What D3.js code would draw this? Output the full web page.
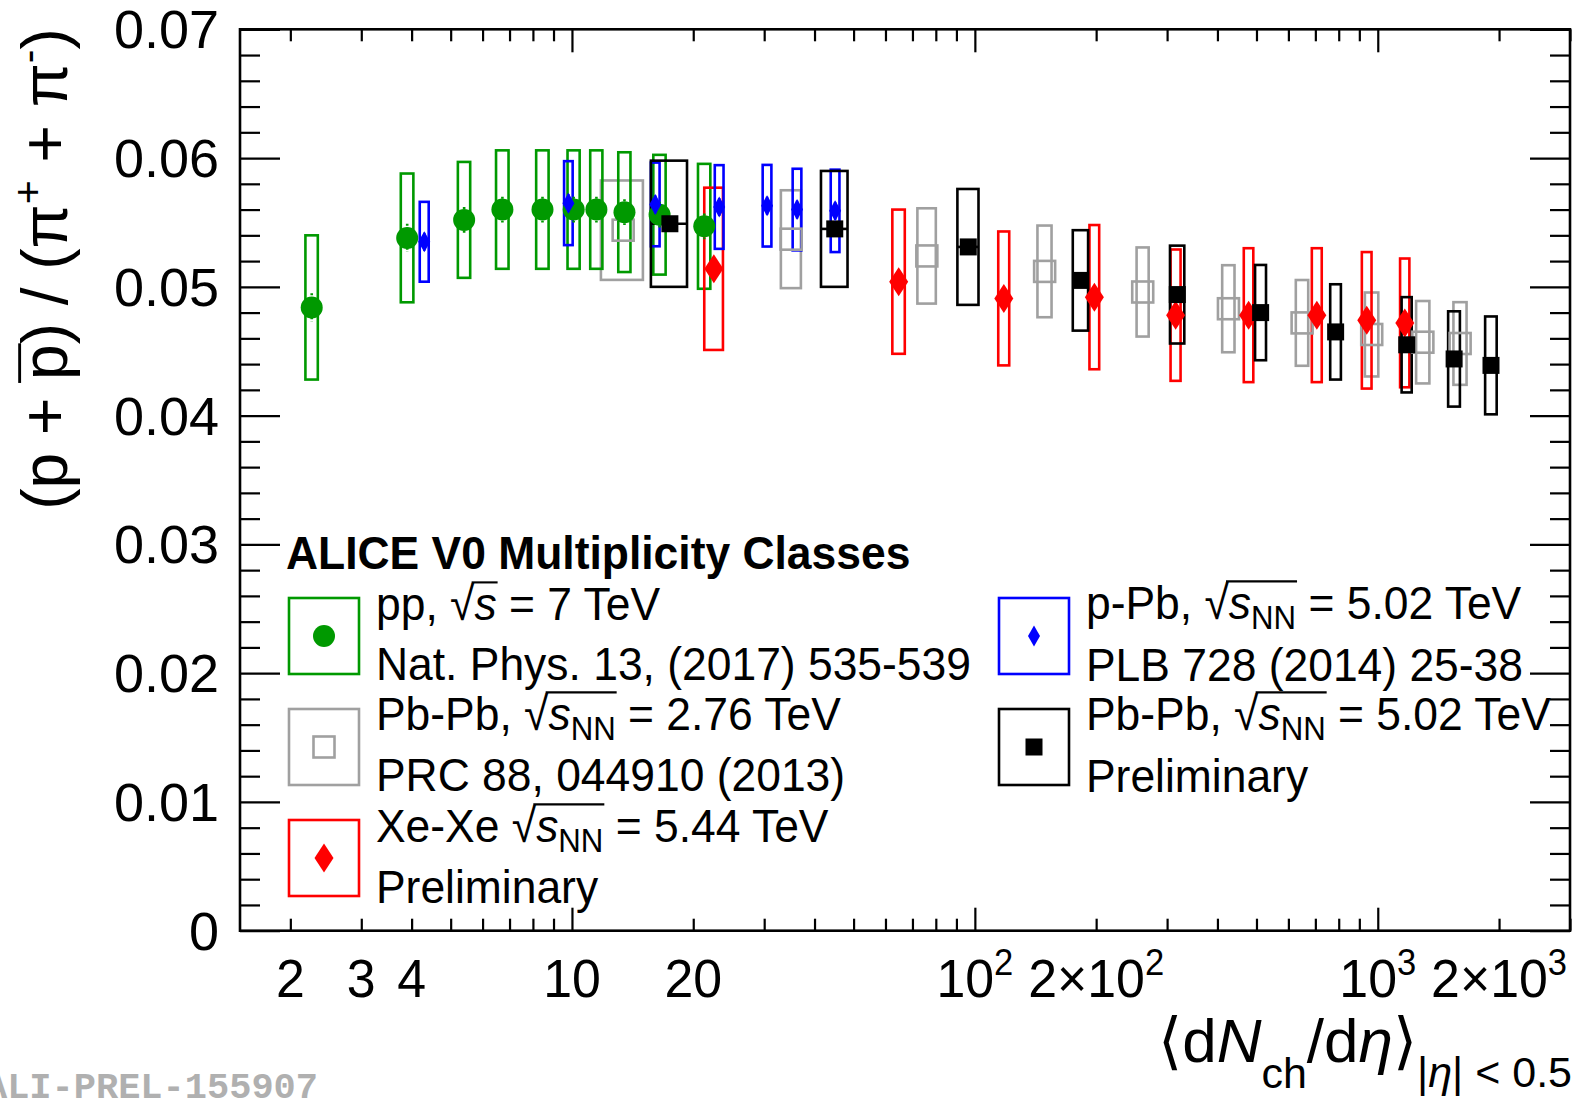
<!DOCTYPE html>
<html><head><meta charset="utf-8">
<script src="https://cdn.jsdelivr.net/npm/d3@7"></script>
<style>
body{margin:0;background:#fff}
svg{display:block}
text{font-family:"Liberation Sans",Arial,Helvetica,sans-serif}
</style>
</head><body>
<svg id="c" width="1577" height="1100"></svg>
<script>
// ---------------- data ----------------
// pp, sqrt(s) = 7 TeV
const ppX     = [2.26, 3.90, 5.40, 6.72, 8.45, 10.1, 11.5, 13.5, 16.5, 21.3];
const ppXErr  = [0.08, 0.14, 0.19, 0.24, 0.30, 0.35, 0.40, 0.47, 0.58, 0.75];
const ppY     = [0.0484, 0.0538, 0.0552, 0.0560, 0.0560, 0.0560, 0.0560, 0.0558, 0.0556, 0.0547];
const ppSys   = [0.0056, 0.0050, 0.0045, 0.0046, 0.0046, 0.0046, 0.0046, 0.00465, 0.00465, 0.00485];
const ppStat  = [0.0011, 0.0011, 0.0010, 0.0010, 0.0010, 0.0010, 0.0010, 0.0010, 0.0010, 0.0010];
// p-Pb, 5.02 TeV
const pPbX    = [4.3, 9.8, 16.1, 23.2, 30.5, 36.2, 45.0];
const pPbXErr = [0.11, 0.24, 0.40, 0.58, 0.76, 0.90, 1.12];
const pPbY    = [0.0535, 0.0565, 0.0564, 0.0562, 0.0563, 0.0560, 0.0559];
const pPbSys  = [0.0031, 0.00326, 0.00325, 0.00325, 0.00317, 0.00317, 0.0032];
const pPbStat = [0.0007, 0.0007, 0.0007, 0.0007, 0.0007, 0.0007, 0.0007];
// Pb-Pb, 2.76 TeV
const pb276X    = [13.4, 35, 76, 149, 261, 426, 649, 966, 1294, 1601];
const pb276XErr = [1.6, 2, 4, 6, 9, 15, 23, 37, 49, 60];
const pb276Y    = [0.0544, 0.0537, 0.0524, 0.0512, 0.0496, 0.0483, 0.0472, 0.0463, 0.0457, 0.0456];
const pb276Sys  = [0.00386, 0.0038, 0.0037, 0.00356, 0.00346, 0.00338, 0.00333, 0.00326, 0.0032, 0.00321];
// Pb-Pb, 5.02 TeV (preliminary)
const pb502X    = [17.5, 44.9, 96.3, 183, 318, 512, 786, 1180, 1547, 1910];
const pb502XErr = [1.8, 3.4, 5.8, 8, 13, 16, 24, 34, 52, 63];
const pb502Y    = [0.0549, 0.0545, 0.0531, 0.0505, 0.0494, 0.0480, 0.0465, 0.0455, 0.0444, 0.0439];
const pb502Sys  = [0.0049, 0.0045, 0.0045, 0.0039, 0.0038, 0.0037, 0.0037, 0.0037, 0.0037, 0.0038];
// Xe-Xe, 5.44 TeV (preliminary)
const xeX    = [22.5, 64.7, 118, 198, 315, 478, 706, 939, 1167];
const xeXErr = [1.2, 2.3, 3.7, 5.5, 9, 13, 20, 26, 31];
const xeY    = [0.0514, 0.0504, 0.0491, 0.0492, 0.0478, 0.0478, 0.0478, 0.0474, 0.0472];
const xeSys  = [0.0063, 0.0056, 0.0052, 0.0056, 0.0051, 0.0052, 0.0052, 0.0053, 0.0050];

// ticks
const yTickValues = [0, 0.01, 0.02, 0.03, 0.04, 0.05, 0.06, 0.07];
const yTickLabels = ["0", "0.01", "0.02", "0.03", "0.04", "0.05", "0.06", "0.07"];
const xTickValues = [2, 3, 4, 10, 20, 100, 200, 1000, 2000];
const xTickLabels = ["2", "3", "4", "10", "20", "10^2", "2×10^2", "10^3", "2×10^3"];

// ---------------- layout ----------------
const svg = d3.select("#c");
const L = 240, R = 1570, T = 29.3, B = 930.7;
const x = d3.scaleLog().domain([1.5, 3000]).range([L, R]);
const y = d3.scaleLinear().domain([0, 0.07]).range([B, T]);

const GREEN = "#009900", GRAY = "#a0a0a0", BLUE = "#0000ff", RED = "#ff0000", BLACK = "#000000";

// ---------------- axes ticks ----------------
function tickGroup(axisFn, scale, vals, size, transform) {
  const g = svg.append("g").attr("transform", transform)
    .call(axisFn(scale).tickValues(vals).tickSize(size).tickFormat(""));
  g.select(".domain").remove();
  g.selectAll("line").attr("stroke", "#000").attr("stroke-width", 2.2);
  g.selectAll("text").remove();
}
const yMinor = d3.range(0, 71, 2).filter(v => v % 10 !== 0).map(v => v / 1000);
const xMajor = [10, 100, 1000];
const xMinor = [];
[1, 10, 100, 1000].forEach(d => { for (let k = 2; k <= 9; k++) { const v = k * d; if (v >= 1.5 && v <= 3000) xMinor.push(v); } });

tickGroup(d3.axisLeft, y, yTickValues, -40, `translate(${L},0)`);
tickGroup(d3.axisLeft, y, yMinor, -20, `translate(${L},0)`);
tickGroup(d3.axisRight, y, yTickValues, -40, `translate(${R},0)`);
tickGroup(d3.axisRight, y, yMinor, -20, `translate(${R},0)`);
tickGroup(d3.axisBottom, x, xMajor, -23, `translate(0,${B})`);
tickGroup(d3.axisBottom, x, xMinor, -12, `translate(0,${B})`);
tickGroup(d3.axisTop, x, xMajor, -23, `translate(0,${T})`);
tickGroup(d3.axisTop, x, xMinor, -12, `translate(0,${T})`);

svg.append("rect").attr("x", L).attr("y", T).attr("width", R - L).attr("height", B - T)
  .attr("fill", "none").attr("stroke", "#000").attr("stroke-width", 2.6);

// ---------------- rich text helper ----------------
function rich(parent, px, py, parts, o) {
  const g = parent.append("g").attr("transform", `translate(${px},${py}) ${o.rot ? "rotate(" + o.rot + ")" : ""} scale(${o.sx || 1},1)`);
  const t = g.append("text").attr("font-size", o.size).attr("text-anchor", o.anchor || "start")
    .attr("fill", o.fill || "#000");
  if (o.weight) t.attr("font-weight", o.weight);
  if (o.family) t.style("font-family", o.family);
  let cur = 0, idx = 0;
  const ol = {};
  parts.forEach(p => {
    const s = typeof p === "string" ? { t: p } : p;
    const ts = t.append("tspan").text(s.t);
    const shift = s.dy || 0;
    if (shift !== cur) { ts.attr("dy", shift - cur); cur = shift; }
    if (s.size) ts.attr("font-size", s.size);
    if (s.it) ts.attr("font-style", "italic");
    if (s.ol) {
      if (!ol[s.ol]) ol[s.ol] = [idx, idx + s.t.length - 1, s.olY || -0.8 * o.size];
      else ol[s.ol][1] = idx + s.t.length - 1;
    }
    idx += s.t.length;
  });
  const n = t.node();
  Object.values(ol).forEach(([a, b, oy]) => {
    const sx = n.getStartPositionOfChar(a).x, ex = n.getEndPositionOfChar(b).x;
    g.append("line").attr("x1", sx - 3).attr("x2", ex + 1).attr("y1", oy).attr("y2", oy)
      .attr("stroke", o.fill || "#000").attr("stroke-width", o.size * 0.045);
  });
  return g;
}

// ---------------- tick labels ----------------
yTickValues.forEach((v, i) => {
  svg.append("text").attr("x", 219).attr("y", y(v) + 19).attr("text-anchor", "end")
    .attr("font-size", 54).text(yTickLabels[i]);
});
xTickValues.forEach((v, i) => {
  const lab = xTickLabels[i];
  const parts = lab.includes("^") ? [lab.split("^")[0], { t: lab.split("^")[1], dy: -22, size: 36 }] : [lab];
  rich(svg, x(v), 997, parts, { size: 54, anchor: "middle", sx: 0.96 });
});

// ---------------- axis titles ----------------
rich(svg, 67, 269, ["(p + ", { t: "p", ol: 1, olY: -0.74 * 64 }, ") / (π", { t: "+", dy: -25, size: 41 },
  { t: " + π" }, { t: "-", dy: -25, size: 41 }, { t: ")" }], { size: 64, anchor: "middle", rot: -90 });

rich(svg, 1572, 1062, ["⟨d", { t: "N", it: true }, { t: "ch", dy: 26, size: 43 }, { t: "/d" },
  { t: "η", it: true }, "⟩", { t: "|", dy: 25, size: 43 }, { t: "η", it: true, dy: 25, size: 43 },
  { t: "| < 0.5", dy: 25, size: 43 }], { size: 62, anchor: "end" });

// watermark
svg.append("text").attr("x", 318).attr("y", 1098).attr("text-anchor", "end")
  .attr("font-size", 37).attr("font-weight", "bold").attr("fill", "#b0b0b0")
  .style("font-family", "'Liberation Mono','DejaVu Sans Mono',monospace").text("ALI-PREL-155907");

// ---------------- data marks ----------------
function boxes(X, XE, Y, S, color) {
  svg.append("g").selectAll("rect").data(X).join("rect")
    .attr("x", (d, i) => x(d - XE[i]))
    .attr("width", (d, i) => x(d + XE[i]) - x(d - XE[i]))
    .attr("y", (d, i) => y(Y[i] + S[i]))
    .attr("height", (d, i) => y(Y[i] - S[i]) - y(Y[i] + S[i]))
    .attr("fill", "none").attr("stroke", color).attr("stroke-width", 2.6);
}
function statBars(X, Y, E, color, dash) {
  svg.append("g").selectAll("line").data(X).join("line")
    .attr("x1", d => x(d)).attr("x2", d => x(d))
    .attr("y1", (d, i) => y(Y[i] + E[i])).attr("y2", (d, i) => y(Y[i] - E[i]))
    .attr("stroke", color).attr("stroke-width", 2.6).attr("stroke-dasharray", dash || null);
}
const diamond = (w, h) => `M0,${-h}L${w},0L0,${h}L${-w},0Z`;
function markers(X, Y, kind, color) {
  const g = svg.append("g");
  X.forEach((d, i) => drawMarker(g, x(d), y(Y[i]), kind, color));
}
function drawMarker(g, cx, cy, kind, color) {
  if (kind === "circle") g.append("circle").attr("cx", cx).attr("cy", cy).attr("r", 11).attr("fill", color);
  if (kind === "open") g.append("rect").attr("x", cx - 10.5).attr("y", cy - 10.5).attr("width", 21).attr("height", 21)
    .attr("fill", "none").attr("stroke", color).attr("stroke-width", 2.6);
  if (kind === "square") g.append("rect").attr("x", cx - 8.5).attr("y", cy - 8.5).attr("width", 17).attr("height", 17).attr("fill", color);
  if (kind === "bigdiamond") g.append("path").attr("transform", `translate(${cx},${cy})`).attr("d", diamond(9.5, 14.5)).attr("fill", color);
  if (kind === "smalldiamond") g.append("path").attr("transform", `translate(${cx},${cy})`).attr("d", diamond(6, 10.5)).attr("fill", color);
}

boxes(pb276X, pb276XErr, pb276Y, pb276Sys, GRAY);
boxes(ppX, ppXErr, ppY, ppSys, GREEN);
boxes(xeX, xeXErr, xeY, xeSys, RED);
boxes(pPbX, pPbXErr, pPbY, pPbSys, BLUE);
boxes(pb502X, pb502XErr, pb502Y, pb502Sys, BLACK);

// black horizontal bars across the boxes
svg.append("g").selectAll("line").data(pb502X).join("line")
  .attr("x1", (d, i) => x(d - pb502XErr[i])).attr("x2", (d, i) => x(d + pb502XErr[i]))
  .attr("y1", (d, i) => y(pb502Y[i])).attr("y2", (d, i) => y(pb502Y[i]))
  .attr("stroke", BLACK).attr("stroke-width", 2.6);

markers(pb276X, pb276Y, "open", GRAY);
statBars(ppX, ppY, ppStat, GREEN, "2,2");
markers(ppX, ppY, "circle", GREEN);
markers(xeX, xeY, "bigdiamond", RED);
markers(pb502X, pb502Y, "square", BLACK);
statBars(pPbX, pPbY, pPbStat, BLUE);
markers(pPbX, pPbY, "smalldiamond", BLUE);

// ---------------- legend ----------------
const LG = { size: 47, sx: 0.945 };
rich(svg, 286, 569, ["ALICE V0 Multiplicity Classes"], { size: 47, sx: 0.945, weight: "bold" });

function legBox(bx, by, color, kind) {
  svg.append("rect").attr("x", bx).attr("y", by).attr("width", 70).attr("height", 76)
    .attr("fill", "none").attr("stroke", color).attr("stroke-width", 2.6);
  drawMarker(svg, bx + 35, by + 38, kind, color);
}
legBox(289, 598, GREEN, "circle");
legBox(289, 709, GRAY, "open");
legBox(289, 820, RED, "bigdiamond");
legBox(999, 598, BLUE, "smalldiamond");
legBox(999, 709, BLACK, "square");

const sNN = [{ t: "√" }, { t: "s", it: true, ol: 1 }, { t: "NN", dy: 10, size: 33, ol: 1 }];
rich(svg, 376, 620, ["pp, ", "√", { t: "s", it: true, ol: 1 }, " = 7 TeV"], LG);
rich(svg, 376, 680, ["Nat. Phys. 13, (2017) 535-539"], LG);
rich(svg, 376, 730, ["Pb-Pb, ", ...sNN, { t: " = 2.76 TeV", dy: 0 }], LG);
rich(svg, 376, 791, ["PRC 88, 044910 (2013)"], LG);
rich(svg, 376, 842, ["Xe-Xe ", ...sNN, { t: " = 5.44 TeV", dy: 0 }], LG);
rich(svg, 376, 903, ["Preliminary"], LG);

rich(svg, 1086, 619, ["p-Pb, ", ...sNN, { t: " = 5.02 TeV", dy: 0 }], LG);
rich(svg, 1086, 681, ["PLB 728 (2014) 25-38"], LG);
rich(svg, 1086, 730, ["Pb-Pb, ", ...sNN, { t: " = 5.02 TeV", dy: 0 }], LG);
rich(svg, 1086, 792, ["Preliminary"], LG);
</script>
</body></html>
